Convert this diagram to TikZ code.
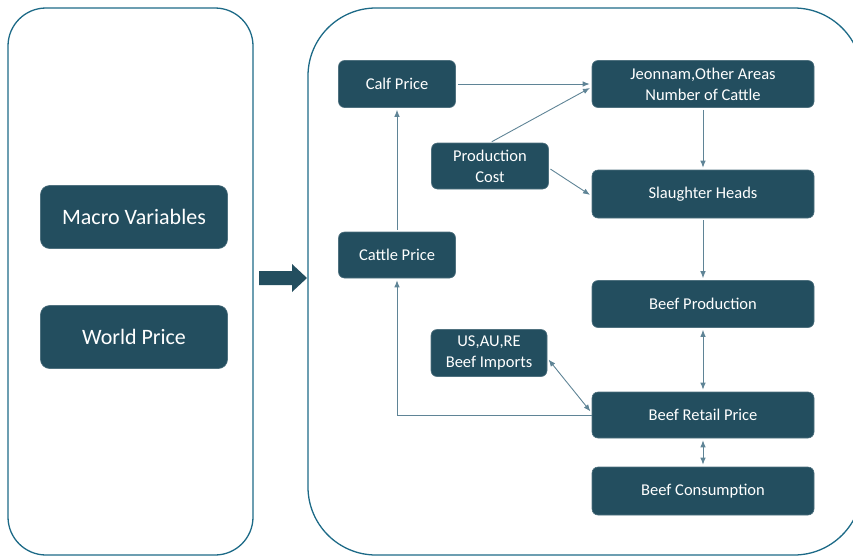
\documentclass[tikz,border=0pt]{standalone}
\usepackage{fontspec}
\setmainfont{Carlito}
\usepackage{xcolor}
\usetikzlibrary{calc, arrows.meta, positioning}

\definecolor{boxfill}{HTML}{234E5F}
\definecolor{frame}{HTML}{1D6A87}
\definecolor{linkcol}{HTML}{5F8496}

\begin{document}
\begin{tikzpicture}[x=1pt, y=-1pt, >={Latex[length=7pt,width=5.5pt]},
    box/.style={draw=boxfill!80!white, line width=0.6pt, fill=boxfill, text=white, rounded corners=6pt,
        align=center, font=\fontsize{16.5}{21}\selectfont, inner sep=0pt},
    bigbox/.style={box, minimum width=187pt, minimum height=63pt, rounded corners=9pt,
        font=\fontsize{22}{26}\selectfont},
    link/.style={draw=linkcol, line width=0.9pt, shorten >=2pt, shorten <=2pt}]
    \useasboundingbox (0,0) rectangle (853,557);

    % Rahmen
    \draw[frame, line width=1.3pt, rounded corners=38pt] (8,8) rectangle (253,555);
    \draw[frame, line width=1.3pt, rounded corners=68pt] (308,8) rectangle (862,555);

    % Linke Seite
    \node[bigbox] (macro) at (134,217) {Macro Variables};
    \node[bigbox] (world) at (134,337) {World Price};

    % Blockpfeil
    \fill[boxfill] (259,271) -- (292,271) -- (292,264) -- (307,278) -- (292,292)
        -- (292,285) -- (259,285) -- cycle;

    % Rechte Seite
    \node[box, minimum width=117pt, minimum height=47pt] (calf) at (397,84) {Calf Price};
    \node[box, minimum width=117pt, minimum height=46pt] (cattle) at (397,255) {Cattle Price};
    \node[box, minimum width=117pt, minimum height=46pt] (cost) at (490,166) {Production\\Cost};
    \node[box, minimum width=116pt, minimum height=47pt] (imports) at (489,353) {US,AU,RE\\Beef Imports};
    \node[box, minimum width=222pt, minimum height=47pt] (herd) at (703,84) {Jeonnam,Other Areas\\Number of Cattle};
    \node[box, minimum width=222pt, minimum height=48pt] (slaughter) at (703,194) {Slaughter Heads};
    \node[box, minimum width=222pt, minimum height=47pt] (prod) at (703,304) {Beef Production};
    \node[box, minimum width=222pt, minimum height=46pt] (retail) at (703,415) {Beef Retail Price};
    \node[box, minimum width=222pt, minimum height=48pt] (cons) at (703,491) {Beef Consumption};

    % Verbindungen
    \draw[link, ->] (calf.east) -- (calf.east -| herd.west);
    \draw[link, ->] (cost.north) -- ($(herd.west)+(0,3)$);
    \draw[link, ->] ($(cost.east)+(0,2)$) -- ($(slaughter.west)+(0,2)$);
    \draw[link, ->] (herd) -- (slaughter);
    \draw[link, ->] (slaughter) -- (prod);
    \draw[link, <->] (prod) -- (retail);
    \draw[link, <->] (retail) -- (cons);
    \draw[link, <->] ($(imports.east)+(0,5)$) -- ($(retail.west)+(0,-2)$);
    \draw[link, ->, shorten <=0pt] (retail.west) -| (cattle.south);
    \draw[link, ->] (cattle) -- (calf);
\end{tikzpicture}
\end{document}
